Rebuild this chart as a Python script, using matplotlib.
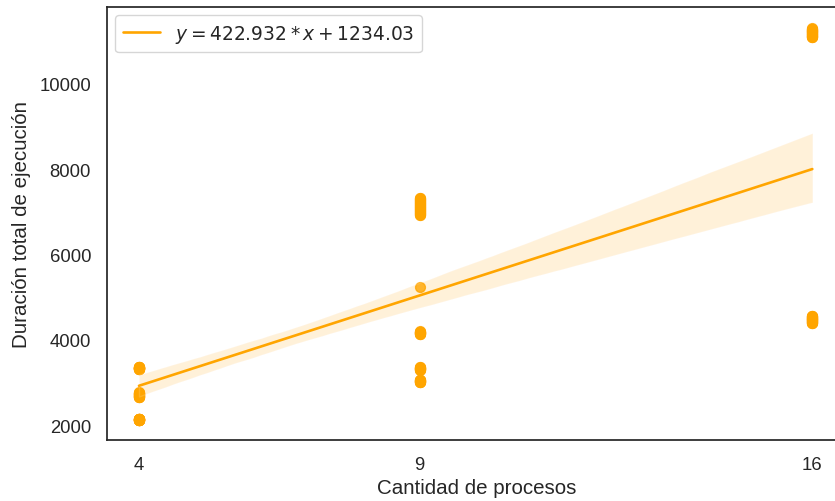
import numpy as np
import matplotlib
matplotlib.use("Agg")
import matplotlib.pyplot as plt
import seaborn as sns

# Execution time measured for each number of MPI processes
procesos = [4, 9, 16]

dur_4p = [
    3331, 3356, 3344, 3319, 3350, 3328, 3362, 3335, 3347, 3322,
    3359, 3340, 3325, 3365, 3337, 3353, 3329, 3349, 3334, 3355,
    2703, 2756, 2685, 2718, 2660, 2737, 2710, 2672, 2768, 2691,
    2743, 2654, 2725, 2678, 2762, 2697, 2774, 2666, 2731, 2750,
    2139, 2121, 2147, 2131, 2153, 2116, 2143, 2135, 2125, 2149,
    2133, 2156, 2127, 2141, 2119, 2137, 2151, 2123, 2145, 2129,
]

dur_9p = [
    7209, 6961, 7125, 7244, 7043, 6938, 7291, 7101, 7174, 6914,
    7256, 7019, 7186, 7078, 7302, 6996, 7139, 7221, 6949, 7267,
    7054, 7326, 7089, 6984, 7232, 7112, 7197, 6926, 7151, 7031,
    7279, 7066, 7162, 7008, 7314, 6973,
    5232,
    4178, 4143, 4166, 4199, 4154, 4190, 4139, 4172, 4148, 4184, 4160, 4195,
    3339, 3304, 3327, 3360, 3315, 3351, 3300, 3333, 3309, 3345, 3321, 3356,
    3049, 3014, 3037, 3070, 3025, 3061, 3010, 3043, 3019, 3055, 3031, 3066,
]

dur_16p = [
    11242, 11101, 11200, 11268, 11154, 11285, 11119, 11207, 11084, 11233,
    11163, 11250, 11136, 11294, 11180, 11224, 11093, 11259, 11145, 11277,
    11128, 11215, 11110, 11198, 11171,
    4500, 4403, 4478, 4523, 4441, 4560, 4418, 4485, 4388, 4530,
    4456, 4553, 4426, 4508, 4396, 4538, 4463, 4568, 4433, 4493,
    4411, 4515, 4448, 4545, 4471,
]

duraciones = [dur_4p, dur_9p, dur_16p]
x = np.concatenate([np.full(len(d), p) for p, d in zip(procesos, duraciones)]).astype(float)
y = np.concatenate([np.asarray(d, dtype=float) for d in duraciones])

pendiente, ordenada = np.polyfit(x, y, 1)
etiqueta = f"$y = {pendiente:g} * x + {ordenada:g}$"

sns.set_style("white")
plt.rcParams["font.family"] = ["Liberation Sans", "DejaVu Sans"]

fig = plt.figure(figsize=(8.35, 5.02), dpi=100)
ax = fig.add_axes([107 / 835, 61.3 / 502, 739 / 835, 432.7 / 502])

sns.regplot(
    x=x, y=y, ax=ax, color="orange", seed=7,
    scatter_kws={"s": 50},
    line_kws={"label": etiqueta, "lw": 1.9},
)

ax.set_xlim(3.43, 16.6)
ax.set_ylim(1663, 11796)
ax.set_xticks(procesos)
ax.set_xticklabels([str(p) for p in procesos])
ax.set_yticks([2000, 4000, 6000, 8000, 10000])
ax.tick_params(labelsize=13.3, colors="#262626", pad=8)
ax.set_xlabel("Cantidad de procesos", fontsize=14.8, color="#262626", labelpad=4)
ax.set_ylabel("Duración total de ejecución", fontsize=14.8, color="#262626", labelpad=6)
for s in ax.spines.values():
    s.set_color("#262626")
    s.set_linewidth(1.25)

ax.legend(loc="upper left", fontsize=13.4, borderaxespad=0.45)

fig.savefig("out.png", dpi=100)
